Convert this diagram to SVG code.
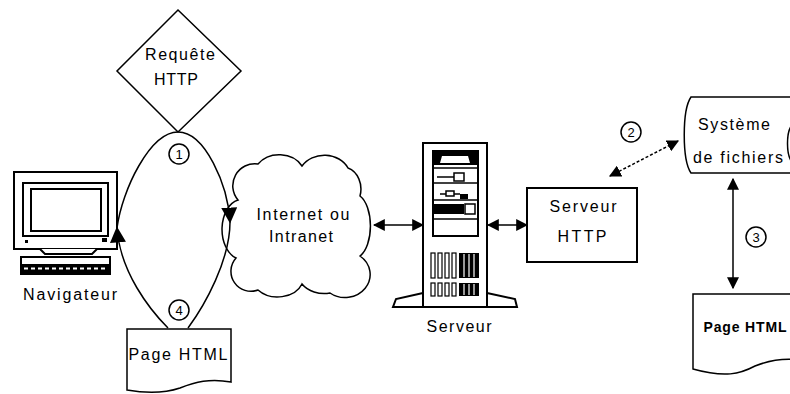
<svg xmlns="http://www.w3.org/2000/svg" width="790" height="394" viewBox="0 0 790 394">
<style>
.ln{fill:none;stroke:#000;stroke-width:1.5}
.sh{fill:#fff;stroke:#000;stroke-width:1.5}
.thk{fill:#fff;stroke:#000;stroke-width:2}
.t{font-family:"Liberation Sans",Arial,sans-serif;font-size:16px;fill:#000;text-anchor:middle}
.n{font-family:"Liberation Sans",Arial,sans-serif;font-size:13px;fill:#000;text-anchor:middle}
.blk{fill:#000}
</style>
<defs>
<marker id="ahb" viewBox="0 0 10 10" refX="9" refY="5" markerWidth="12" markerHeight="12" orient="auto-start-reverse" markerUnits="userSpaceOnUse">
<path d="M0,0 L10,5 L0,10 Z" fill="#000"/>
</marker>
<marker id="ahl" viewBox="0 0 10 10" refX="9" refY="5" markerWidth="16" markerHeight="16" orient="auto" markerUnits="userSpaceOnUse">
<path d="M0,0 L10,5 L0,10 Z" fill="#000"/>
</marker>
</defs>
<rect width="790" height="394" fill="#fff"/>

<g id="requete">
<polygon class="sh" points="178,10 241,71 178,132 117,71"/>
<text class="t" x="180" y="60" textLength="70" lengthAdjust="spacing">Requête</text>
<text class="t" x="176" y="85" textLength="44" lengthAdjust="spacing">HTTP</text>
</g>

<g id="navigateur">
<rect class="thk" x="14" y="172" width="103" height="77"/>
<rect class="thk" x="23" y="183" width="85" height="53"/>
<rect class="thk" x="31" y="189" width="70" height="42"/>
<rect class="blk" x="25" y="240" width="3" height="3"/>
<rect class="blk" x="102" y="238" width="5" height="4"/>
<path class="thk" d="M40,249 L45,254 L92,254 L97,249"/>
<rect class="thk" x="21" y="257" width="89" height="17"/>
<rect class="blk" x="21" y="264" width="89" height="9"/>
<line x1="24" y1="268.5" x2="107" y2="268.5" stroke="#fff" stroke-width="2" stroke-dasharray="4 3"/>
<text class="t" x="70" y="300" textLength="94" lengthAdjust="spacing">Navigateur</text>
</g>

<g id="page-html-left">
<path class="sh" d="M127,329 H231 V382 C210,378 195,382 180,388 C165,393 150,394 127,390 Z"/>
<text class="t" x="178" y="360" textLength="99" lengthAdjust="spacing">Page HTML</text>
</g>

<g id="internet">
<path class="sh" d="M238,200 A22 22 0 0 1 258,164 A26 22 0 0 1 302,166 A26 22 0 0 1 348,168 A18 22 0 0 1 360,196 A16 32 0 0 1 360,256 A24 22 0 0 1 330,293 A26 20 0 0 1 302,284 A26 20 0 0 1 258,290 A20 20 0 0 1 236,258 A20 30 0 0 1 238,200 Z"/>
<text class="t" x="303" y="220" textLength="93" lengthAdjust="spacing">Internet ou</text>
<text class="t" x="301" y="242" textLength="64" lengthAdjust="spacing">Intranet</text>
</g>

<g id="serveur">
<path class="thk" d="M423,293 L396,299 L393,307 L517,307 L515,299 L487,293"/>
<rect class="thk" x="423" y="143" width="64" height="164"/>
<rect class="thk" x="433" y="151" width="45" height="85"/>
<rect class="blk" x="434" y="152" width="43" height="13"/>
<path d="M440,163 L442,156 L468,156 L470,163 Z" fill="#fff"/>
<line class="ln" x1="434" y1="168" x2="477" y2="168"/>
<line class="ln" x1="437" y1="177" x2="464" y2="177"/>
<rect class="sh" x="454" y="173" width="10" height="8"/>
<line class="ln" x1="434" y1="183" x2="477" y2="183"/>
<line class="ln" x1="440" y1="194" x2="460" y2="194"/>
<rect class="sh" x="446" y="191" width="8" height="5"/>
<rect class="blk" x="460" y="194" width="8" height="5"/>
<line class="ln" x1="434" y1="200" x2="477" y2="200"/>
<rect class="blk" x="434" y="204" width="30" height="10"/>
<rect class="sh" x="465" y="204" width="10" height="10"/>
<line class="ln" x1="434" y1="219" x2="477" y2="219"/>
<g fill="#fff" stroke="#000" stroke-width="1.2">
<rect x="431" y="253" width="4" height="25"/><rect x="438" y="253" width="4" height="25"/><rect x="445" y="253" width="4" height="25"/><rect x="452" y="253" width="4" height="25"/>
<rect x="431" y="283" width="4" height="13"/><rect x="438" y="283" width="4" height="13"/><rect x="445" y="283" width="4" height="13"/><rect x="452" y="283" width="4" height="13"/>
</g>
<rect class="blk" x="459" y="253" width="20" height="25"/>
<rect class="blk" x="459" y="283" width="20" height="13"/>
<g stroke="#fff" stroke-width="1.2"><line x1="464" y1="254" x2="464" y2="277"/><line x1="469" y1="254" x2="469" y2="277"/><line x1="474" y1="254" x2="474" y2="277"/><line x1="464" y1="284" x2="464" y2="295"/><line x1="469" y1="284" x2="469" y2="295"/><line x1="474" y1="284" x2="474" y2="295"/></g>
<text class="t" x="459" y="332" textLength="65" lengthAdjust="spacing">Serveur</text>
</g>

<g id="serveur-http">
<rect class="thk" x="527" y="188" width="110" height="74"/>
<text class="t" x="583" y="212" textLength="67" lengthAdjust="spacing">Serveur</text>
<text class="t" x="582" y="242" textLength="49" lengthAdjust="spacing">HTTP</text>
</g>

<g id="systeme-fichiers">
<path class="sh" d="M800,97 H691 C682,110 682,160 691,173 H800"/>
<path class="ln" d="M792,125 C786,132 786,155 792,162"/>
<text class="t" x="734" y="130" textLength="72" lengthAdjust="spacing">Système</text>
<text class="t" x="738" y="163" textLength="90" lengthAdjust="spacing">de fichiers</text>
</g>

<g id="page-html-right">
<path class="sh" d="M693,294 H800 V360 C785,358 770,360 755,366 C740,374 725,378 693,369 Z"/>
<text class="t" x="745" y="332" textLength="83" lengthAdjust="spacing" style="font-size:14px;font-weight:bold">Page HTML</text>
</g>

<g id="connectors">
<path class="ln" d="M178,132 C150,132 122,190 117,228"/>
<path class="ln" d="M168,328 C150,310 120,272 117,228" marker-end="url(#ahl)"/>
<path class="ln" d="M178,132 C205,132 228,185 230,222" marker-end="url(#ahl)"/>
<path class="ln" d="M188,328 C205,305 230,260 230,222"/>
<line class="ln" x1="374" y1="225" x2="423" y2="225" marker-start="url(#ahb)" marker-end="url(#ahb)"/>
<line class="ln" x1="488" y1="225" x2="527" y2="225" marker-start="url(#ahb)" marker-end="url(#ahb)"/>
<line class="ln" x1="610" y1="176" x2="678" y2="141" stroke-dasharray="3 2" marker-start="url(#ahb)" marker-end="url(#ahb)"/>
<line class="ln" x1="733" y1="179" x2="733" y2="288" marker-start="url(#ahb)" marker-end="url(#ahb)"/>
<g id="labels">
<circle class="sh" cx="179" cy="154" r="10"/><text class="n" x="179" y="159">1</text>
<circle class="sh" cx="179" cy="310" r="10"/><text class="n" x="179" y="315">4</text>
<circle class="sh" cx="631" cy="132" r="10"/><text class="n" x="631" y="137">2</text>
<circle class="sh" cx="756" cy="237" r="10"/><text class="n" x="756" y="242">3</text>
</g>
</g>
</svg>
